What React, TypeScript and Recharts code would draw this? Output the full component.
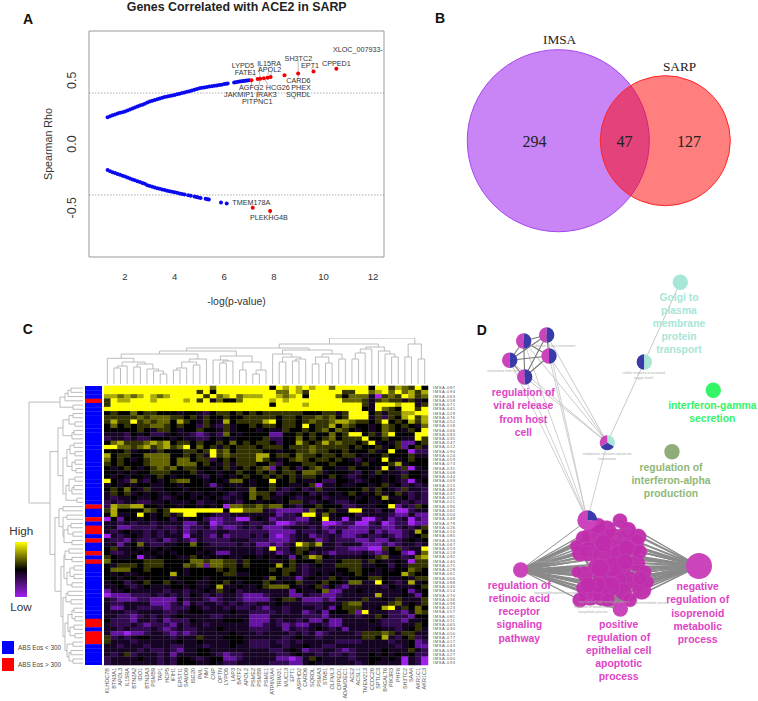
import { ScatterChart, Scatter, XAxis, YAxis, ReferenceLine, ReferenceArea, Sector } from "recharts";

// ---- Panel A
const posX = [1.3,1.4,1.5,1.6,1.7,1.8,1.9,2,2.1,2.2,2.3,2.4,2.5,2.6,2.7,2.8,2.9,3,3.1,3.2,3.3,3.4,3.5,3.6,3.7,3.8,3.9,4,4.1,4.2,4.3,4.4,4.5,4.6,4.7,4.8,4.9,5,5.1,5.2,5.3,5.4,5.5,5.6,5.7,5.8,5.9,6,6.08,6.14,6.4,6.47,6.55,6.62,6.7,6.78,6.85,6.92,7];
const posRho = [.21,.217,.225,.232,.239,.245,.25,.255,.263,.271,.279,.287,.295,.302,.309,.316,.325,.333,.339,.345,.351,.357,.363,.368,.373,.377,.381,.385,.39,.395,.4,.405,.41,.415,.42,.425,.431,.4375,.441,.444,.448,.451,.454,.457,.46,.463,.466,.47,.472,.474,.483,.485,.488,.49,.492,.494,.496,.498,.5];
const negX = [1.3,1.4,1.5,1.6,1.7,1.8,1.9,2,2.1,2.2,2.3,2.4,2.5,2.6,2.7,2.8,2.9,3,3.1,3.2,3.3,3.4,3.5,3.6,3.7,3.8,3.9,4,4.1,4.2,4.3,4.4,4.55,4.65,4.8,4.88,4.96,5.05,5.25,5.32,5.38,5.87,6.1];
const negRho = [-.205,-.213,-.221,-.228,-.235,-.242,-.249,-.255,-.263,-.271,-.278,-.285,-.292,-.299,-.306,-.313,-.323,-.33,-.336,-.342,-.347,-.352,-.357,-.362,-.367,-.371,-.375,-.378,-.383,-.388,-.392,-.396,-.402,-.407,-.413,-.417,-.42,-.423,-.43,-.433,-.436,-.46,-.467];
const redX = [7.1,7.35,7.45,7.6,7.75,7.87,8.43,8.98,9.6,10.52,7.15,7.85];
const redRho = [.5,.51,.512,.517,.52,.525,.54,.553,.57,.59,-.5,-.525];
const geneNames = ["XLOC_007933-","CPPED1","EPT1","SH3TC2","IL15RA","LYPD5","APOL2","FATE1","CARD6","AGFG2","HCG26","PHEX","JAKMIP1","IRAK3","SQRDL","PITPNC1","TMEM178A","PLEKHG4B"];
const geneX = [11.39,10.52,9.46,8.99,7.81,6.75,7.83,6.86,8.99,7.09,8.16,9.1,6.6,7.7,8.99,7.33,7.09,7.8];
const geneY = [.745,.635,.617,.669,.633,.617,.583,.5625,.495,.44,.44,.44,.388,.388,.388,.336,-.461,-.58];
const leaderLines = [
  [8.98,.65,8.98,.553],[8.98,.553,8.98,.51],[7.1,.5,7.1,.45],[7.35,.51,6.98,.58],[7.45,.512,7.4,.61],
  [7.6,.517,7.78,.46],[7.75,.52,7.8,.6],[7.87,.525,7.9,.565],[9.6,.57,9.5,.6],[7.45,.512,7.3,.35],[7.85,-.525,7.85,-.56],[7.15,-.5,7.1,-.48],
];
const scatterTicksX = [2,4,6,8,10,12];
const scatterTicksY = [-0.5,0,0.5];

// ---- Panel B
const vennNames = ["IMSA","SARP"];
const vennTotals = [341,174];
const vennX = [158.3,265.3];
const vennY = [140.7,140.7];
const vennFill = ["#930BEB","#FF0000"];
const vennStroke = ["#A347EE","#FF2424"];

// ---- Panel C
const heatRows = [
"8888888 8888888 8868888 8888487 8787886 8888848 8576584",
"8888888 8888888 5848888 8888866 8758888 8558867 8686757",
"7767678 7678888 8586786 7778876 7848888 6466630 5658756",
"5877888 7888878 5836446 8888787 8888888 8666535 6553534",
"5888888 8888888 8888888 8888488 8878888 8888538 8878835",
"8888888 8888888 8888888 8888888 8888888 8888438 6548858",
"4544645 5444344 3245545 4545555 5544455 3588845 3557788",
"5555565 6665545 3544544 5555545 5455656 4588835 2547857",
"5755856 5664754 3543745 5557845 5456556 7765545 8454757",
"4645455 6654544 2532534 4545545 5484557 4654434 6545436",
"4444454 3554344 5443534 4434335 4454564 6543434 6543548",
"3332434 2234332 1232643 4444114 4545446 4588453 6844488",
"2332322 4443433 2243434 4445224 4645456 4555844 5443385",
"4675556 7674554 5445464 5455424 4754575 6554583 4351145",
"8866567 5675684 6453545 5545554 5556555 5545445 3451453",
"4445344 3544455 4585645 5554434 4556554 4544453 4844022",
"7455446 6664454 5385655 5577455 4655455 4554344 5444533",
"6454345 6664664 5524545 5575434 5654554 5432434 8434544",
"5454445 6664666 4543535 5544524 4455445 4443544 4573444",
"4345434 5656455 4434534 5456145 4245644 3354443 8425034",
"4434344 5554445 3443445 4454545 5466534 4432435 4332443",
"4343443 4543444 3243434 5445454 5355445 4323434 3435443",
"8432632 4345664 4344366 4344844 5433422 4432344 3432034",
"3434344 3344344 4313433 4344544 3345033 4334434 5342323",
"4546435 3344434 4443443 3644532 3423533 4444535 4325332",
"3545343 4334343 3434323 4655423 4342334 3454345 3453232",
"3233433 4323443 4343233 4645334 3233423 3343434 7334232",
"2323322 3343334 2334332 4434434 5532343 2234433 4432322",
"2766774 4344344 3434066 5565664 3244544 4223334 4813254",
"5744446 5458888 8888488 6663211 1126345 3388332 4300233",
"4733484 3453588 4432233 3333312 2388363 4442333 3211311",
"0414434 3442434 4211220 0343122 2113483 3033002 3123021",
"3323233 2333311 3301222 3223200 1223300 1220023 0122011",
"3311222 2322312 2312112 3231112 3332312 2211122 1123235",
"3234332 3232312 3223322 2222111 1322321 3111131 2112374",
"0323432 3233303 3213122 2323101 2331223 2112322 3212345",
"3221322 2312321 3222233 3222111 2333123 2221121 1323434",
"3313463 2233446 4322223 2311212 3865733 2333111 2123323",
"4533434 3434444 4333333 3323822 4554333 2211100 5452338",
"4223343 4343444 3431133 3323312 3542321 2222321 2441036",
"5433403 3444335 4343433 4434343 1457643 3333435 6332367",
"6444445 5544446 6566553 5444334 5444533 4555354 3343055",
"4355545 5544465 6166554 5444474 5323433 5555334 4243555",
"4666445 4444434 4445454 4444545 5323333 4455443 4344654",
"4343344 4447434 4444553 3444445 4323434 3445433 4447544",
"4434434 4443444 4344444 4443643 3134335 4344455 4334355",
"3442345 4454344 3344543 4445434 4533454 4366338 4323734",
"3343234 3334434 3347334 3345666 4334524 2133333 2433345",
"1334333 3323323 3435342 3333333 1433461 1334333 3334134",
"0111222 3232324 3232332 1112333 1132211 2333337 3334314",
"3211122 1111423 3212332 1111345 5311121 3333533 4353335",
"3223333 1112313 2332323 2233343 3322233 3566333 3563435",
"3113322 2212224 3233232 2321332 3333231 4555334 7835464",
"3332233 3322334 4333343 3222232 3312314 4451833 3221365",
"3322123 2323433 3322333 3111333 3322213 3332335 4222144",
"4222133 2312224 3333444 3111323 3231131 1333343 2221334",
"3222321 2221323 3233333 3112321 2113321 1333333 2223354",
"3323222 3212322 3334333 3222331 3223432 3133334 3323453",
"3110112 3321212 3333343 3323333 2323123 3332555 6535533",
"5232344 3332333 5333444 3333332 3433233 3333554 7324523",
"5333233 3333433 4333344 3222322 3233333 2222333 3233412",
"3323332 3332233 3233343 3222332 3343322 3333333 3323411",
"3333323 2232133 4433333 3333223 4312233 2123333 4333532",
"3235233 3231333 4432122 3333322 3433232 2323343 4343422",
"2333343 3232443 2344112 3333311 0135433 3323344 3430320",
"2333333 3232444 3343223 3333222 1134333 3332343 3330320",
];
const heatColors = ["#A020F0","#6414A0","#320A50","#160424","#000000","#333300","#666600","#AAAA00","#FFFF00"];
const geneColumns = ["KLHDC7B","BTN3A1","APOL3","IL15RA","BTN2A2","IDO1","BTN3A3","PSMB9","TAP1","HCP5","IFIH1","EPSTI1","SAMD9","ISG20","PML","NMI","CNP","OPTN","LYPD5","LAP3","BATF2","APOL2","PSME2","PSMB8","PSME1","ATP6V0A4","TRIM31","MUC13","EPT1","ASPHD2","CARD6","SQRDL","PSMA3","STAB1","OLFML3","CPPED1","ADAMDEC1","ACE2","ACSL1","TMEM213","CCDC26","SPTLC3","B4GALT6","PIK3R3","PHF6","SH3TC2","SAA4","AKR1C1","AKR1C3"];
const subjectIds = ["087","094","063","058","071","041","029","076","052","018","066","083","035","047","012","090","024","059","073","031","008","044","069","015","080","037","055","021","096","062","004","049","078","026","010","085","033","067","053","019","092","040","075","028","061","006","088","046","014","070","036","098","023","057","081","011","065","030","050","077","017","043","084","027","060","093"];
const highEosRows = [3,28,31,33,34,36,39,41,55,56,58,59,60];
const topMerges = [
  [1,0,2,0,16],[1.5,16,3,0,18],[4,0,5,0,17],[8,0,9,0,10],[7,0,8.5,10,13],[6,0,7.75,13,15],[4.5,17,6.9,15,20],[2.25,18,5.7,20,22],[0,0,4,22,25.7],
  [10,0,11,0,14],[10.5,14,12,0,16],[13,0,14,0,19],[11.25,16,13.5,19,22],[12.4,22,15,0,25],[2.1,25.7,13.7,25,30],
  [17,0,18,0,21],[17.5,21,19,0,23],[16,0,18.25,23,24],[20,0,21,0,14],[22,0,23,0,10],[22.5,10,24,0,14],[20.5,14,23.25,14,22],[17.1,24,21.9,22,28],[7.9,30,19.5,28,33],
  [26,0,27,0,22],[28,0,29,0,23],[28.5,23,30,0,25],[26.5,22,29.25,25,27],[25,0,27.9,27,30],[31,0,32,0,20],[33,0,34,0,21],[31.5,20,33.5,21,27],[35,0,36,0,25],[32.5,27,35.5,25,30],[26.5,30,34,30,34],[12,33,30.5,34,36],
  [37,0,38,0,25],[37.5,25,39,0,31],[38.25,31,40,0,35],[43,0,44,0,27],[42,0,43.5,27,30],[41,0,42.75,30,33],[39.1,35,41.9,33,37],[26,36,41,37,40],
  [45,0,46,0,27],[47,0,48,0,25],[45.5,27,47.5,25,40],[33.6,40,46.5,40,46],
];
const leftMerges = [
  [0,0,1,0,12],[.5,12,2,0,15],[1.25,15,3,0,18],[4,0,5,0,10],[2.1,18,4.5,10,23],
  [6,0,7,0,10],[8,0,9,0,8],[6.5,10,8.5,8,14],[10,0,11,0,9],[10.5,9,12,0,11],[7.5,14,11.25,11,20],
  [13,0,14,0,9],[15,0,16,0,8],[13.5,9,15.5,8,13],[17,0,18,0,8],[19,0,20,0,7],[17.5,8,19.5,7,11],[14.5,13,18.5,11,16],
  [21,0,22,0,8],[23,0,24,0,9],[23.5,9,25,0,11],[21.5,8,24.25,11,14],[26,0,27,0,6],[23,14,26.5,6,17],[16.5,16,25,17,20],[9.4,20,20.7,20,25],
  [28,0,29,0,20],[30,0,31,0,16],[32,0,33,0,12],[34,0,35,0,10],[32.5,12,34.5,10,15],[36,0,37,0,11],[33.5,15,36.5,11,19],[30.5,16,35,19,20],[28.5,20,32.75,20,24],
  [38,0,39,0,14],[40,0,41,0,11],[38.5,14,40.5,11,18],[42,0,43,0,9],[44,0,45,0,9],[42.5,9,44.5,9,13],[46,0,47,0,11],[43.5,13,46.5,11,16],[39.5,18,45,16,19],
  [48,0,49,0,15],[50,0,51,0,12],[48.5,15,50.5,12,17],[52,0,53,0,9],[54,0,55,0,8],[52.5,9,54.5,8,11],[56,0,57,0,9],[58,0,59,0,8],[56.5,9,58.5,8,13],[53.5,11,57.5,13,15],
  [60,0,61,0,10],[62,0,63,0,12],[64,0,65,0,10],[62.5,12,64.5,10,14],[60.5,10,63.5,14,16],[55.5,15,62,16,18],[49.5,17,58.75,18,20],[42.2,19,54,20,22],
  [30.6,24,48,22,28],[15,25,39.3,28,33],[3.3,23,27.15,33,54],
];

// ---- Panel D
const PINK = "#CC44BB";
const BLUE = "#3A3AA8";
const TEAL = "#A8E6D8";
const pieNodes = [
  { x: 523.7, y: 341, r: 7.7, wedges: [[90,270,PINK],[-90,90,BLUE]] },
  { x: 546.7, y: 335, r: 7.7, wedges: [[90,270,PINK],[-90,90,BLUE]] },
  { x: 549, y: 356, r: 7.7, wedges: [[90,270,PINK],[-90,90,BLUE]] },
  { x: 509.7, y: 360.3, r: 7.7, wedges: [[90,270,PINK],[-90,90,BLUE]] },
  { x: 524.7, y: 377, r: 7.7, wedges: [[90,270,PINK],[-90,90,BLUE]] },
  { x: 644.3, y: 362, r: 7.7, wedges: [[90,270,BLUE],[-90,90,TEAL]] },
  { x: 607.3, y: 442.7, r: 7.5, wedges: [[-30,90,TEAL],[210,330,BLUE],[90,210,PINK]] },
  { x: 587.3, y: 520.3, r: 10, wedges: [[90,360,PINK],[0,90,BLUE]] },
];
const plainNodes = [
  { x: 680.3, y: 282.3, r: 7.7, color: TEAL },
  { x: 713.3, y: 390.3, r: 7.7, color: "#33F566" },
  { x: 672, y: 451.7, r: 7.7, color: "#8FAD78" },
  { x: 520.7, y: 570, r: 7.7, color: PINK },
  { x: 699, y: 566, r: 13, color: PINK },
  { x: 620.3, y: 609, r: 7.7, color: PINK },
];
const clusterNodes = [
  [620,520.7,7.3],[593.3,535,10.5],[615,541.7,13],[633.3,545,10.5],[638.3,536.7,8],[606.7,530,9.5],[583.3,538.3,7.5],
  [580,553.3,8],[588.3,551.7,9.5],[603.3,556.7,11],[620,555,10],[636.7,563.3,8.5],[585,574.3,8],[601.7,576.7,9],
  [621.7,569.3,9],[630,580,8.5],[616.7,580,10],[641.7,590,9.5],[590,595,10.5],[601.7,596.7,9],[623.3,591.7,8.5],
  [610,586.7,10],[583.3,588.3,7],[613.3,566.7,10],[626.7,548.3,8],[596.7,566.7,8.5],[603.3,543.3,8.5],[640,551.7,7],
  [598,526,8],[628,530,8],[576,546,6],[645,572,6.5],[608,600,7],[577,572,5.5],[648,582,6],[630,600,7],[598,585,8],
  [580,600,7.5],[640,578,7],[625,562,8],[600,568,9],[588,585,8],
];
const hubs = [[520.7,570],[699,566],[620.3,609]];
const pieCentres = [[523.7,341],[546.7,335],[549,356],[509.7,360.3],[524.7,377]];
const linkTop = [587.3,520.3];
const linkER = [607.3,442.7];
const linkOxygen = [644.3,362];
const linkGolgi = [680.3,282.3];

const termLabels = [
  { lines: ["Golgi to","plasma","membrane","protein","transport"], x: 679, y: 300.5, color: TEAL },
  { lines: ["interferon-gamma","secretion"], x: 712.3, y: 409.2, color: "#33F566" },
  { lines: ["regulation of","viral release","from host","cell"], x: 523.3, y: 396.2, color: "#DD44C4" },
  { lines: ["regulation of","interferon-alpha","production"], x: 671, y: 470.5, color: "#8FB878" },
  { lines: ["regulation of","retinoic acid","receptor","signaling","pathway"], x: 519.3, y: 588.8, color: "#DD44C4" },
  { lines: ["negative","regulation of","isoprenoid","metabolic","process"], x: 697.7, y: 590.2, color: "#DD44C4" },
  { lines: ["positive","regulation of","epithelial cell","apoptotic","process"], x: 618.7, y: 627.5, color: "#DD44C4" },
];
const tinyLabels = [
  { t: "viral release from host", x: 503, y: 371.5 },
  { t: "cellular response to increased", x: 643.5, y: 374 },
  { t: "oxygen levels", x: 643.5, y: 379 },
  { t: "endoplasmic reticulum calcium ion", x: 607, y: 454.5 },
  { t: "homeostasis", x: 607, y: 460 },
  { t: "modulation of host environment", x: 553, y: 347 },
  { t: "regulation of lipid metabolic process", x: 604, y: 603 },
  { t: "regulation of steroid process", x: 594, y: 607.5 },
  { t: "biosynthetic process", x: 593, y: 613 },
  { t: "sterol metabolic process", x: 652, y: 603.5 },
  { t: "cholesterol biosynthetic process", x: 556, y: 563 },
  { t: "isoprenoid biosynthetic process", x: 556, y: 594 },
];

const cellsData = heatRows.flatMap((row, r) =>
  row.replace(/ /g, "").split("").map((ch, c) => ({ col: c + 0.5, row: r + 0.5, level: Number(ch) })),
);
const annotationData = subjectIds.map((_, r) => ({ x: 0.5, row: r + 0.5, high: highEosRows.includes(r) }));
const colTicks = geneColumns.map((_, i) => i + 0.5);
const rowTicks = subjectIds.map((_, i) => i + 0.5);

const sans = "'Liberation Sans', Arial, sans-serif";
const serif = "'Liberation Serif', 'Times New Roman', serif";

const NoDot = () => <g />;
const RedDot = (p: any) => <circle cx={p.cx} cy={p.cy} r={2} fill="#F00000" />;
const BlueDot = (p: any) => <circle cx={p.cx} cy={p.cy} r={2} fill="#0A0AF0" />;
const GeneText = (p: any) => (
  <text x={p.cx} y={p.cy + 2.5} textAnchor="middle" fontSize={7.2} fontFamily={sans} fill="#333">
    {p.payload.name}
  </text>
);
const VennCircle = (p: any) => (
  <circle
    cx={p.cx}
    cy={p.cy}
    r={Math.sqrt(p.payload.total) * 4.93}
    fill={p.payload.fill}
    fillOpacity={0.5}
    stroke={p.payload.stroke}
    strokeWidth={1}
  />
);
const HeatCell = (p: any) => (
  <rect x={p.cx - 3.31} y={p.cy - 2.11} width={6.85} height={4.5} fill={heatColors[p.payload.level]} />
);
const AnnotCell = (p: any) => (
  <rect x={p.cx - 8.5} y={p.cy - 2.11} width={17} height={4.5} fill={p.payload.high ? "#FF0000" : "#0000FF"} />
);
const PieNode = (p: any) => (
  <g>
    {p.payload.wedges.map((w: any, i: number) => (
      <Sector key={i} cx={p.cx} cy={p.cy} innerRadius={0} outerRadius={p.payload.r} startAngle={w[0]} endAngle={w[1]} fill={w[2]} />
    ))}
  </g>
);
const PlainNode = (p: any) => <circle cx={p.cx} cy={p.cy} r={p.payload.r} fill={p.payload.color} />;
const ClusterNode = (p: any) => (
  <circle cx={p.cx} cy={p.cy} r={p.payload.r} fill="#C02CAC" fillOpacity={0.95} stroke="#CF60BE" strokeWidth={0.3} />
);
const RhoTick = (p: any) => (
  <text transform={`rotate(-90 76 ${p.y})`} x={76} y={p.y} textAnchor="middle" fontSize={12.4} fontFamily={sans} fill="#333">
    {p.payload.value.toFixed(1)}
  </text>
);
const GeneTick = (p: any) => {
  const name = geneColumns[Math.floor(p.payload.value)];
  return (
    <text transform={`rotate(-90 ${p.x + 1.8} 338)`} x={p.x + 1.8} y={338} textAnchor="end" fontSize={5.5} fontFamily={sans} fill="#555">
      {name}
    </text>
  );
};
const RowTick = (p: any) => (
  <text x={433} y={p.y + 1.4} fontSize={4.1} letterSpacing={0.55} fontFamily={sans} fill="#555">
    {"IMSA-" + subjectIds[Math.floor(p.payload.value)]}
  </text>
);

const Box = ({ left, top, children }: any) => (
  <div style={{ position: "absolute", left, top }}>{children}</div>
);

function topDendroPts(m: number[]) {
  const [a, ha, b, hb, h] = m;
  return [{ x: a + 0.5, y: ha }, { x: a + 0.5, y: h }, { x: b + 0.5, y: h }, { x: b + 0.5, y: hb }];
}
function leftDendroPts(m: number[]) {
  const [a, ha, b, hb, h] = m;
  return [{ x: ha, y: a + 0.5 }, { x: h, y: a + 0.5 }, { x: h, y: b + 0.5 }, { x: hb, y: b + 0.5 }];
}
function segment(a: number[], b: number[]) {
  return [{ x: a[0], y: a[1] }, { x: b[0], y: b[1] }];
}

function GeneScatter() {
  return (
    <ScatterChart width={400} height={310} margin={{ top: 31, right: 16, bottom: 0, left: 29 }}>
      <XAxis
        type="number" dataKey="x" domain={[0.55, 12.44]} ticks={scatterTicksX} axisLine={false} tickLine={false}
        tickMargin={10} height={53} tick={{ fontSize: 9.6, fontFamily: sans, fill: "#333" }}
        label={{ value: "-log(p-value)", position: "insideBottom", offset: 5, fontSize: 10.4, fontFamily: sans, fill: "#333" }}
      />
      <YAxis
        type="number" dataKey="y" domain={[-0.887, 0.887]} ticks={scatterTicksY} axisLine={false} tickLine={false}
        width={60} tick={RhoTick}
        label={{ value: "Spearman Rho", angle: -90, position: "insideLeft", offset: 19, fontSize: 10.7, fontFamily: sans, fill: "#333", style: { textAnchor: "middle" } }}
      />
      <ReferenceArea x1={0.55} x2={12.44} y1={-0.887} y2={0.887} fill="none" stroke="#999" strokeWidth={1} />
      <ReferenceLine y={0.4} stroke="#777" strokeDasharray="1.5 1.5" strokeWidth={0.6} />
      <ReferenceLine y={-0.4} stroke="#777" strokeDasharray="1.5 1.5" strokeWidth={0.6} />
      {leaderLines.map((l, i) => (
        <ReferenceLine key={i} segment={[{ x: l[0], y: l[1] }, { x: l[2], y: l[3] }]} stroke="#777" strokeWidth={0.5} />
      ))}
      <Scatter data={posX.map((x, i) => ({ x, y: posRho[i] }))} shape={BlueDot} isAnimationActive={false} />
      <Scatter data={negX.map((x, i) => ({ x, y: negRho[i] }))} shape={BlueDot} isAnimationActive={false} />
      <Scatter data={redX.map((x, i) => ({ x, y: redRho[i] }))} shape={RedDot} isAnimationActive={false} />
      <Scatter data={geneNames.map((name, i) => ({ name, x: geneX[i], y: geneY[i] }))} shape={GeneText} isAnimationActive={false} />
    </ScatterChart>
  );
}

function Venn() {
  const data = vennNames.map((name, i) => ({ name, x: vennX[i], y: vennY[i], total: vennTotals[i], fill: vennFill[i], stroke: vennStroke[i] }));
  return (
    <ScatterChart width={358} height={240} margin={{ top: 0, right: 0, bottom: 0, left: 0 }}>
      <XAxis type="number" dataKey="x" domain={[0, 358]} hide />
      <YAxis type="number" dataKey="y" domain={[0, 240]} reversed hide />
      <Scatter data={data} shape={VennCircle} isAnimationActive={false} />
    </ScatterChart>
  );
}

function Heatmap() {
  return (
    <ScatterChart width={470} height={371} margin={{ top: 55.67, right: 0, bottom: 0, left: 104 }}>
      <XAxis
        type="number" dataKey="col" domain={[0, 49]} ticks={colTicks} interval={0} height={36}
        axisLine={false} tickLine={false} tick={GeneTick}
      />
      <YAxis
        type="number" dataKey="row" domain={[0, 66]} reversed orientation="right" ticks={rowTicks} interval={0} width={42}
        axisLine={false} tickLine={false} tick={RowTick}
      />
      <Scatter data={cellsData} shape={HeatCell} isAnimationActive={false} />
    </ScatterChart>
  );
}

function Annotation() {
  return (
    <ScatterChart width={17} height={279.33} margin={{ top: 0, right: 0, bottom: 0, left: 0 }}>
      <XAxis type="number" dataKey="x" domain={[0, 1]} hide />
      <YAxis type="number" dataKey="row" domain={[0, 66]} reversed hide />
      <Scatter data={annotationData} shape={AnnotCell} isAnimationActive={false} />
    </ScatterChart>
  );
}

function TopDendrogram() {
  return (
    <ScatterChart width={324} height={46} margin={{ top: 0, right: 0, bottom: 0, left: 0 }}>
      <XAxis type="number" dataKey="x" domain={[0, 49]} hide />
      <YAxis type="number" dataKey="y" domain={[0, 46]} hide />
      {topMerges.map((m, i) => (
        <Scatter key={i} data={topDendroPts(m)} shape={NoDot} line={{ stroke: "#B4B4B4", strokeWidth: 0.9 }} isAnimationActive={false} />
      ))}
    </ScatterChart>
  );
}

function LeftDendrogram() {
  return (
    <ScatterChart width={60} height={279.33} margin={{ top: 0, right: 0, bottom: 0, left: 0 }}>
      <XAxis type="number" dataKey="x" domain={[60, 0]} allowDataOverflow hide reversed={false} />
      <YAxis type="number" dataKey="y" domain={[0, 66]} reversed hide />
      {leftMerges.map((m, i) => (
        <Scatter key={i} data={leftDendroPts(m)} shape={NoDot} line={{ stroke: "#B4B4B4", strokeWidth: 0.9 }} isAnimationActive={false} />
      ))}
    </ScatterChart>
  );
}

function Network() {
  const Line = (a: number[], b: number[], key: string, stroke: string, w: number) => (
    <Scatter key={key} data={segment(a, b)} shape={NoDot} line={{ stroke, strokeWidth: w }} isAnimationActive={false} />
  );
  return (
    <ScatterChart width={288} height={441} margin={{ top: 0, right: 0, bottom: 0, left: 0 }}>
      <XAxis type="number" dataKey="x" domain={[470, 758]} hide />
      <YAxis type="number" dataKey="y" domain={[260, 701]} reversed hide />
      {pieCentres.map((a, i) => Line(a, linkER, "er" + i, "#BBB", 0.8))}
      {pieCentres.map((a, i) => Line(a, linkTop, "top" + i, "#C4C4C4", 0.8))}
      {pieCentres.flatMap((a, i) =>
        pieCentres.slice(i + 1).map((b, j) => Line(a, b, `k${i}-${j}`, "#777", 1.1)),
      )}
      {Line(linkER, linkOxygen, "o1", "#BBB", 0.8)}
      {Line(linkOxygen, linkGolgi, "o2", "#BBB", 0.8)}
      {Line(linkER, linkTop, "o3", "#C4C4C4", 0.8)}
      {Line(hubs[0], linkTop, "o4", "#777", 0.8)}
      {hubs.flatMap((h, i) =>
        clusterNodes.map((n, j) => Line(h, n, `h${i}-${j}`, "#8A8A8A", 1.4)),
      )}
      <Scatter data={clusterNodes.map((n) => ({ x: n[0], y: n[1], r: n[2] }))} shape={ClusterNode} isAnimationActive={false} />
      <Scatter data={plainNodes} shape={PlainNode} isAnimationActive={false} />
      <Scatter data={pieNodes} shape={PieNode} isAnimationActive={false} />
    </ScatterChart>
  );
}

export default function App() {
  return (
    <div style={{ position: "absolute", left: 0, top: 0, width: 758, height: 701, background: "#fff", overflow: "hidden" }}>
      <Box left={0} top={0}><GeneScatter /></Box>
      <Box left={400} top={0}><Venn /></Box>
      <Box left={104} top={338}><TopDendrogram /></Box>
      <Box left={23} top={385.67}><LeftDendrogram /></Box>
      <Box left={85} top={385.67}><Annotation /></Box>
      <Box left={0} top={330}><Heatmap /></Box>
      <Box left={470} top={260}><Network /></Box>

      <div style={{ position: "absolute", left: 15, top: 541.7, width: 12, height: 55.6, background: "linear-gradient(#FFFF00, #000000 50%, #A020F0)" }} />
      <div style={{ position: "absolute", left: 1.7, top: 640.7, width: 12.6, height: 13.3, background: "#0000FF" }} />
      <div style={{ position: "absolute", left: 1.7, top: 658.3, width: 12.6, height: 12.7, background: "#FF0000" }} />

      <svg width={758} height={701} style={{ position: "absolute", left: 0, top: 0, pointerEvents: "none" }}>
        <g fontFamily={sans} fontWeight="bold" fontSize={14} fill="#111">
          <text x={23} y={24}>A</text>
          <text x={435} y={23.3}>B</text>
          <text x={22.7} y={334}>C</text>
          <text x={476.7} y={335}>D</text>
        </g>
        <text x={236.7} y={10.5} textAnchor="middle" fontFamily={sans} fontWeight="bold" fontSize={12.4} fill="#222">
          Genes Correlated with ACE2 in SARP
        </text>

        <g fontFamily={serif} fill="#222" textAnchor="middle">
          <text x={559.6} y={43.5} fontSize={13.3}>IMSA</text>
          <text x={679.6} y={70.5} fontSize={13.3}>SARP</text>
          <text x={534.5} y={146.5} fontSize={16}>294</text>
          <text x={624.5} y={146.5} fontSize={16}>47</text>
          <text x={689} y={146.5} fontSize={16}>127</text>
        </g>

        <g fontFamily={sans} fill="#333">
          <text x={21.3} y={535} textAnchor="middle" fontSize={11.7}>High</text>
          <text x={21} y={611} textAnchor="middle" fontSize={11.7}>Low</text>
          <text x={18} y={650} fontSize={6.3} fill="#444">ABS Eos &lt; 300</text>
          <text x={18} y={667.3} fontSize={6.3} fill="#444">ABS Eos &gt; 300</text>
        </g>

        <g fontFamily={sans} fontSize={3.2} fill="#AAA" textAnchor="middle">
          {tinyLabels.map((l, i) => (
            <text key={i} x={l.x} y={l.y}>{l.t}</text>
          ))}
        </g>

        <g fontFamily={sans} fontWeight="bold" fontSize={10.4} textAnchor="middle">
          {termLabels.map((t, i) => (
            <text key={i} fill={t.color}>
              {t.lines.map((line, j) => (
                <tspan key={j} x={t.x} y={t.y + j * 13.2}>{line}</tspan>
              ))}
            </text>
          ))}
        </g>
      </svg>
    </div>
  );
}
